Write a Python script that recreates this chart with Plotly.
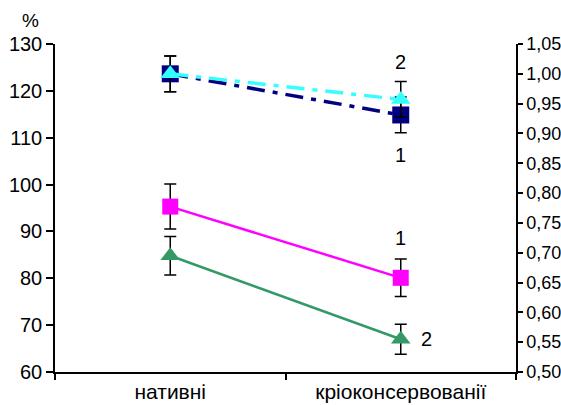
import plotly.graph_objects as go

categories = ["нативні", "кріоконсервованії"]

# left axis (%)
magenta_vals = [95.3, 80.1]
magenta_err = [4.8, 4.0]
green_vals = [84.8, 67.0]
green_err = [4.1, 3.2]

# right axis
navy_vals = [1.00, 0.931]
navy_err = [0.03, 0.03]
cyan_vals = [1.00, 0.957]
cyan_err = [0.03, 0.03]

FONT = "Liberation Sans, Arial, sans-serif"
DASHDOT = "18px,8px,5px,8px"
fig = go.Figure()

def err(arr):
    return dict(type="data", array=arr, color="black", thickness=1.5, width=6)

fig.add_trace(go.Scatter(x=categories, y=navy_vals, yaxis="y2", mode="lines+markers",
                         line=dict(color="#000080", width=3.5, dash=DASHDOT),
                         marker=dict(symbol="square", size=17, color="#000080"),
                         error_y=err(navy_err), showlegend=False))
fig.add_trace(go.Scatter(x=categories, y=cyan_vals, yaxis="y2", mode="lines+markers",
                         line=dict(color="#33FFFF", width=3.5, dash=DASHDOT),
                         marker=dict(symbol="triangle-up", size=17, color="#33FFFF"),
                         error_y=err(cyan_err), showlegend=False))
fig.add_trace(go.Scatter(x=categories, y=magenta_vals, mode="lines+markers",
                         line=dict(color="#FF00FF", width=2.5),
                         marker=dict(symbol="square", size=16, color="#FF00FF"),
                         error_y=err(magenta_err), showlegend=False))
fig.add_trace(go.Scatter(x=categories, y=green_vals, mode="lines+markers",
                         line=dict(color="#339966", width=2.5),
                         marker=dict(symbol="triangle-up", size=17, color="#339966"),
                         error_y=err(green_err), showlegend=False))

ann_font = dict(family=FONT, size=20, color="black")
fig.add_annotation(x=categories[1], y=cyan_vals[1], yref="y2", text="2", showarrow=False,
                   yshift=37, font=ann_font)
fig.add_annotation(x=categories[1], y=navy_vals[1], yref="y2", text="1", showarrow=False,
                   yshift=-40, font=ann_font)
fig.add_annotation(x=categories[1], y=magenta_vals[1], text="1", showarrow=False,
                   yshift=40, font=ann_font)
fig.add_annotation(x=categories[1], y=green_vals[1], text="2", showarrow=False,
                   xshift=26, font=ann_font)
fig.add_annotation(xref="paper", yref="paper", x=0, y=1.0, xshift=-25, yshift=24,
                   xanchor="center", yanchor="middle", text="%",
                   showarrow=False, font=dict(family=FONT, size=19, color="black"))

fig.update_layout(
    width=561, height=405,
    margin=dict(l=55, r=45, t=44, b=33, autoexpand=False),
    paper_bgcolor="white", plot_bgcolor="white",
    separators=", ",
    font=dict(family=FONT, size=20, color="black"),
    xaxis=dict(type="category", tickson="boundaries", ticks="outside", ticklen=6,
               tickcolor="black", tickwidth=1.5, showline=True, linecolor="black",
               linewidth=1.5, showgrid=False, range=[-0.5, 1.5],
               tickfont=dict(family=FONT, size=21)),
    yaxis=dict(range=[60, 130], dtick=10, ticks="outside", ticklen=7, tickcolor="black",
               tickwidth=1.5, showline=True, linecolor="black", linewidth=1.5,
               showgrid=False, zeroline=False, tickfont=dict(family=FONT, size=20)),
    yaxis2=dict(range=[0.5, 1.05], dtick=0.05, tickformat=".2f", overlaying="y",
                side="right", ticks="outside", ticklen=5, tickcolor="black", tickwidth=1.5,
                showline=True, linecolor="black", linewidth=1.5, showgrid=False,
                zeroline=False, tickfont=dict(family=FONT, size=18)),
)

fig.write_html(
    "out.html",
    config={"displayModeBar": False},
    post_script="document.body.style.margin='0';document.body.style.overflow='hidden';",
)
